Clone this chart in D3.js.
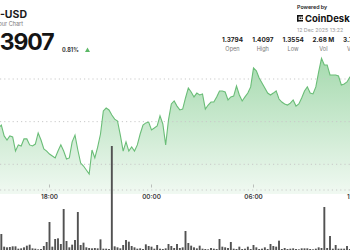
<!DOCTYPE html>
<html>
<head>
<meta charset="utf-8">
<script src="https://cdn.jsdelivr.net/npm/d3@7"></script>
<style>
  body { margin: 0; background: #fff; }
  svg { display: block; font-family: Inter, "Open Sans", sans-serif; }
</style>
</head>
<body>
<svg id="chart" width="350" height="250"></svg>
<script>
// 10 minute slots starting 11 Dec 2025 15:00
var slot_start = new Date(2025, 11, 11, 15, 0)
var slot_minutes = 10

var prices = [
  1.3770, 1.3784, 1.3733, 1.3714, 1.3733, 1.3728, 1.3662, 1.3691, 1.3686, 1.3719,
  1.3719, 1.3691, 1.3686, 1.3695, 1.3747, 1.3714, 1.3672, 1.3662, 1.3648, 1.3639,
  1.3630, 1.3662, 1.3691, 1.3662, 1.3625, 1.3630, 1.3705, 1.3737, 1.3667, 1.3606,
  1.3592, 1.3573, 1.3554, 1.3667, 1.3630, 1.3681, 1.3742, 1.3850, 1.3864, 1.3855,
  1.3831, 1.3812, 1.3803, 1.3737, 1.3662, 1.3705, 1.3662, 1.3681, 1.3662, 1.3691,
  1.3742, 1.3784, 1.3794, 1.3798, 1.3761, 1.3770, 1.3780, 1.3827, 1.3789, 1.3691,
  1.3808, 1.3883, 1.3897, 1.3873, 1.3855, 1.3859, 1.3911, 1.3958, 1.3939, 1.3916,
  1.3934, 1.3925, 1.3930, 1.3859, 1.3878, 1.3892, 1.3892, 1.3916, 1.3944, 1.3944,
  1.3939, 1.3902, 1.3916, 1.3920, 1.3967, 1.3925, 1.3897, 1.3916, 1.3934, 1.3963,
  1.4052, 1.4038, 1.4005, 1.3981, 1.3958, 1.3934, 1.3925, 1.3934, 1.3944, 1.3906,
  1.3892, 1.3883, 1.3878, 1.3887, 1.3902, 1.3873, 1.3883, 1.3911, 1.3944, 1.3963,
  1.3934, 1.3930, 1.3963, 1.4033, 1.4097, 1.4066, 1.4066, 1.4019, 1.4019, 1.4019,
  1.4014, 1.3972, 1.3977, 1.3986, 1.4009, 1.4019
]

// volume per slot, thousands
var volumes = [
  8, 48, 10, 8, 9, 11, 11, 4, 5, 8,
  13, 16, 5, 4, 2, 3, 12, 24, 84, 10,
  33, 35, 18, 123, 27, 8, 16, 30, 114, 15,
  22, 8, 6, 5, 6, 5, 32, 4, 4, 3,
  312, 11, 8, 5, 15, 30, 25, 12, 8, 4,
  5, 3, 17, 12, 10, 4, 15, 4, 3, 5,
  18, 12, 6, 18, 6, 8, 57, 21, 13, 8,
  5, 13, 4, 3, 2, 6, 4, 3, 33, 10,
  8, 6, 24, 4, 3, 10, 3, 4, 10, 3,
  15, 8, 3, 4, 8, 3, 18, 12, 10, 28,
  3, 6, 3, 4, 5, 3, 2, 5, 5, 5,
  3, 2, 4, 8, 6, 129, 6, 42, 4, 15,
  4, 4, 4, 12, 3, 3
]

var grid_prices = [1.36, 1.38, 1.40]
var tick_times = [
  new Date(2025, 11, 11, 18, 0), new Date(2025, 11, 12, 0, 0),
  new Date(2025, 11, 12, 6, 0), new Date(2025, 11, 12, 12, 0)
]

var title_text = "-USD"
var subtitle_text = "24 Hour Chart"
var last_price = "1.3907"
var change_text = "0.81%"
var date_text = "12 Dec 2025 13:22"
var stat_values = ["1.3794", "1.4097", "1.3554", "2.68 M", "3.72 M"]
var stat_labels = ["Open", "High", "Low", "Vol", "Vol $"]

var svg = d3.select("#chart")

var data = prices.map(function(p, i) {
  return {t: d3.timeMinute.offset(slot_start, i * slot_minutes), price: p, vol: volumes[i]}
})

var x = d3.scaleTime()
  .domain([slot_start, data[data.length - 1].t])
  .range([-1.5, -1.5 + (data.length - 1) * 17 / 6])

var y = d3.scaleLinear().domain([1.36, 1.40]).range([164.3, 79])
var y_vol = d3.scaleLinear().domain([0, d3.max(volumes)]).range([250, 146])
var plot_bottom = 194

var defs = svg.append("defs")
var grad = defs.append("linearGradient")
  .attr("id", "area_grad")
  .attr("gradientUnits", "userSpaceOnUse")
  .attr("x1", 0).attr("x2", 0).attr("y1", 55).attr("y2", plot_bottom)
grad.append("stop").attr("offset", 0).attr("stop-color", "#6cc27a").attr("stop-opacity", 0.62)
grad.append("stop").attr("offset", 1).attr("stop-color", "#6cc27a").attr("stop-opacity", 0.1)

var area = d3.area()
  .x(function(d) { return x(d.t) })
  .y0(plot_bottom)
  .y1(function(d) { return y(d.price) })

svg.append("path")
  .datum(data)
  .attr("d", area)
  .attr("fill", "url(#area_grad)")

// dotted price gridlines
svg.append("g").selectAll("line")
  .data(grid_prices)
  .enter().append("line")
  .attr("x1", 0).attr("x2", 350)
  .attr("y1", function(d) { return y(d) })
  .attr("y2", function(d) { return y(d) })
  .attr("stroke", "#c9c9c9")
  .attr("stroke-width", 1)
  .attr("stroke-dasharray", "1.2,3")

svg.append("path")
  .datum(data)
  .attr("d", d3.line().x(function(d) { return x(d.t) }).y(function(d) { return y(d.price) }))
  .attr("fill", "none")
  .attr("stroke", "#6abd77")
  .attr("stroke-width", 1.1)

// time axis
svg.append("line")
  .attr("x1", 0).attr("x2", 350)
  .attr("y1", 190).attr("y2", 190)
  .attr("stroke", "#c9c9c9")
  .attr("stroke-dasharray", "1.2,3")

var ticks = svg.append("g").selectAll("g")
  .data(tick_times)
  .enter().append("g")
  .attr("transform", function(d) { return "translate(" + x(d) + ",0)" })

ticks.append("line")
  .attr("y1", 184.5).attr("y2", 187.5)
  .attr("stroke", "#999")
  .attr("stroke-width", 0.6)

ticks.append("text")
  .attr("y", 198.5)
  .attr("text-anchor", "middle")
  .attr("font-size", 6.3)
  .attr("font-weight", 600)
  .attr("fill", "#3a3a3a")
  .text(d3.timeFormat("%H:%M"))

// volume bars
svg.append("g").selectAll("rect")
  .data(data)
  .enter().append("rect")
  .attr("x", function(d) { return x(d.t) - 0.95 })
  .attr("width", 1.9)
  .attr("y", function(d) { return y_vol(d.vol) })
  .attr("height", function(d) { return 250 - y_vol(d.vol) })
  .attr("fill", "#525252")

// header left
svg.append("text")
  .attr("x", 27).attr("y", 17.5)
  .attr("text-anchor", "end")
  .attr("font-size", 10.5)
  .attr("font-weight", 700)
  .attr("fill", "#1b1b1b")
  .text(title_text)

svg.append("text")
  .attr("x", 23).attr("y", 25.5)
  .attr("text-anchor", "end")
  .attr("font-size", 5.5)
  .attr("fill", "#777")
  .text(subtitle_text)

svg.append("text")
  .attr("x", 53.5).attr("y", 50)
  .attr("text-anchor", "end")
  .attr("font-size", 23)
  .attr("font-weight", 700)
  .attr("letter-spacing", -1.1)
  .attr("fill", "#151515")
  .text(last_price)

svg.append("text")
  .attr("x", 62).attr("y", 51.5)
  .attr("font-size", 5.5)
  .attr("font-weight", 700)
  .attr("fill", "#333")
  .text(change_text)

svg.append("path")
  .attr("d", "M85,52 L87.5,47.5 L90,52 Z")
  .attr("fill", "#5cb866")

// header right
svg.append("text")
  .attr("x", 297).attr("y", 8.5)
  .attr("font-size", 5.3)
  .attr("font-weight", 600)
  .attr("fill", "#222")
  .text("Powered by")

var logo = svg.append("g").attr("transform", "translate(297,15)")
logo.append("rect").attr("x", 0).attr("y", 0).attr("width", 6).attr("height", 1.6).attr("fill", "#111")
logo.append("rect").attr("x", 0).attr("y", 0).attr("width", 1.6).attr("height", 6.5).attr("fill", "#111")
logo.append("rect").attr("x", 0).attr("y", 4.9).attr("width", 6).attr("height", 1.6).attr("fill", "#111")
logo.append("rect").attr("x", 2.6).attr("y", 2.5).attr("width", 1.4).attr("height", 1.4).attr("fill", "#111")
logo.append("rect").attr("x", 4.6).attr("y", 2.5).attr("width", 1.4).attr("height", 1.4).attr("fill", "#111")

svg.append("text")
  .attr("x", 305).attr("y", 21.5)
  .attr("font-size", 9.5)
  .attr("font-weight", 700)
  .attr("fill", "#111")
  .text("CoinDesk Indices")

svg.append("text")
  .attr("x", 297).attr("y", 31.5)
  .attr("font-size", 5.3)
  .attr("fill", "#9a9a9a")
  .text(date_text)

var stats = svg.append("g").selectAll("g")
  .data(stat_values)
  .enter().append("g")
  .attr("transform", function(d, i) { return "translate(" + (232.5 + i * 30.3) + ",0)" })

stats.append("text")
  .attr("y", 42)
  .attr("text-anchor", "middle")
  .attr("font-size", 6.4)
  .attr("font-weight", 700)
  .attr("fill", "#222")
  .text(function(d) { return d })

stats.append("text")
  .attr("y", 50.5)
  .attr("text-anchor", "middle")
  .attr("font-size", 5.6)
  .attr("fill", "#777")
  .text(function(d, i) { return stat_labels[i] })
</script>
</body>
</html>
